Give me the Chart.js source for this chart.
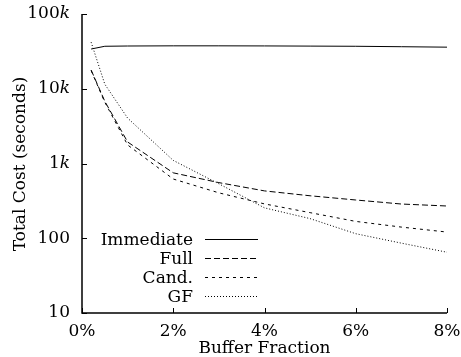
<!DOCTYPE html>
<html>
<head>
<meta charset="utf-8">
<script src="https://cdn.jsdelivr.net/npm/chart.js@4"></script>
<style>
  body { margin: 0; background: #fff; }
  #wrap { width: 461px; height: 357px; }
</style>
</head>
<body>
<div id="wrap"><canvas id="chart" width="461" height="357"></canvas></div>
<script>
// ── data ──────────────────────────────
const bufferFraction = [0.2, 0.5, 1, 2, 3, 4, 5, 6, 7, 8];
const immediateCost = [34000, 37000, 37300, 37500, 37500, 37400, 37200, 37000, 36500, 36000];
const fullCost      = [17800, 6800, 1940, 750, 555, 430, 370, 325, 287, 270];
const candCost      = [17500, 6600, 1770, 620, 405, 288, 220, 168, 141, 121];
const gfCost        = [42000, 11500, 4050, 1100, 535, 255, 183, 115, 86, 65];

const seriesNames = ['Immediate', 'Full', 'Cand.', 'GF'];
const seriesDash  = [[], [6, 3], [3, 4], [1, 2]];

const xTicks = [0, 2, 4, 6, 8];
const yTicks = [10, 100, 1000, 10000, 100000];
const yTickText = [['10', ''], ['100', ''], ['1', 'k'], ['10', 'k'], ['100', 'k']];

const FONT = '"DejaVu Serif", serif';

const toPoints = vals => vals.map((v, i) => ({ x: bufferFraction[i], y: v }));
const allSeries = [immediateCost, fullCost, candCost, gfCost];

// ── axes, labels, legend drawn on canvas ──────────────
const decorPlugin = {
  id: 'decor',
  afterDraw(chart) {
    const ctx = chart.ctx;
    const xs = chart.scales.x, ys = chart.scales.y;
    const area = chart.chartArea;
    ctx.save();
    ctx.strokeStyle = '#000';
    ctx.fillStyle = '#000';
    ctx.lineWidth = 1.5;

    // axis lines
    ctx.beginPath();
    ctx.moveTo(area.left, area.top);
    ctx.lineTo(area.left, area.bottom);
    ctx.lineTo(area.right, area.bottom);
    ctx.stroke();

    // inward ticks
    ctx.lineWidth = 1;
    yTicks.forEach(v => {
      const y = Math.round(ys.getPixelForValue(v)) + 0.5;
      ctx.beginPath();
      ctx.moveTo(area.left, y);
      ctx.lineTo(area.left + 5, y);
      ctx.stroke();
    });
    xTicks.forEach(v => {
      const x = Math.round(xs.getPixelForValue(v)) + 0.5;
      ctx.beginPath();
      ctx.moveTo(x, area.bottom);
      ctx.lineTo(x, area.bottom - 5);
      ctx.stroke();
    });

    // y tick labels, italic k
    ctx.textBaseline = 'middle';
    yTicks.forEach((v, i) => {
      const y = ys.getPixelForValue(v);
      const [num, suf] = yTickText[i];
      ctx.font = 'italic 17px ' + FONT;
      const sw = suf ? ctx.measureText(suf).width : 0;
      const right = area.left - 12;
      if (suf) {
        ctx.textAlign = 'right';
        ctx.fillText(suf, right, y);
      }
      ctx.font = '17px ' + FONT;
      ctx.textAlign = 'right';
      ctx.fillText(num, right - sw, y);
    });

    // x tick labels
    ctx.font = '17px ' + FONT;
    ctx.textAlign = 'center';
    xTicks.forEach(v => {
      ctx.fillText(v + '%', xs.getPixelForValue(v), area.bottom + 19);
    });

    // axis titles
    ctx.fillText('Buffer Fraction', (area.left + area.right) / 2, area.bottom + 36);
    ctx.save();
    ctx.translate(21, 164);
    ctx.rotate(-Math.PI / 2);
    ctx.fillText('Total Cost (seconds)', 0, 0);
    ctx.restore();

    // legend: text right aligned, line sample after it
    chart.data.datasets.forEach((ds, i) => {
      const y = 239 + i * 19;
      ctx.font = '17px ' + FONT;
      ctx.textAlign = 'right';
      ctx.textBaseline = 'alphabetic';
      ctx.fillText(ds.label, 193, y + 6);
      ctx.setLineDash(ds.borderDash);
      ctx.lineWidth = 1;
      ctx.beginPath();
      ctx.moveTo(205, y + 0.5);
      ctx.lineTo(258, y + 0.5);
      ctx.stroke();
      ctx.setLineDash([]);
    });
    ctx.restore();
  }
};

new Chart(document.getElementById('chart'), {
  type: 'line',
  data: {
    datasets: allSeries.map((vals, i) => ({
      label: seriesNames[i],
      data: toPoints(vals),
      borderColor: '#000',
      borderWidth: 1,
      borderDash: seriesDash[i],
      pointRadius: 0,
      tension: 0,
      fill: false
    }))
  },
  options: {
    responsive: false,
    animation: false,
    layout: { padding: { left: 82, right: 14, top: 14, bottom: 44 } },
    plugins: { legend: { display: false }, tooltip: { enabled: false } },
    scales: {
      x: {
        type: 'linear', min: 0, max: 8,
        grid: { display: false, drawTicks: false },
        border: { display: false },
        ticks: { display: false }
      },
      y: {
        type: 'logarithmic', min: 10, max: 100000,
        grid: { display: false, drawTicks: false },
        border: { display: false },
        ticks: { display: false }
      }
    }
  },
  plugins: [decorPlugin]
});
</script>
</body>
</html>
